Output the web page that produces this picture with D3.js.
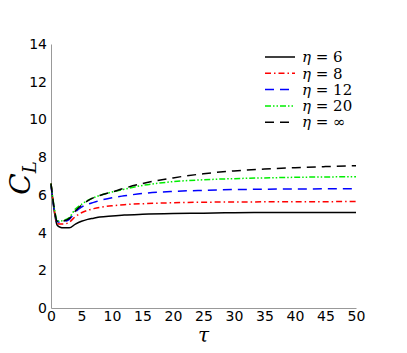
<!DOCTYPE html>
<html>
<head>
<meta charset="utf-8">
<script src="https://cdn.jsdelivr.net/npm/d3@7"></script>
<style>
  body { margin: 0; background: #fff; }
</style>
</head>
<body>
<div id="chart"></div>
<script>
// tau samples
const tau = [0, 0.5, 1, 1.5, 2, 3, 4, 5, 6, 7, 8, 10, 12, 15, 20, 25, 30, 35, 40, 45, 50];

const eta6   = [6.6, 5.2, 4.4, 4.28, 4.25, 4.25, 4.45, 4.6, 4.7, 4.76, 4.82, 4.88, 4.93, 4.97, 5.01, 5.03, 5.05, 5.06, 5.06, 5.07, 5.07];
const eta8   = [6.6, 5.3, 4.5, 4.45, 4.45, 4.55, 4.85, 5.05, 5.18, 5.27, 5.34, 5.42, 5.48, 5.53, 5.58, 5.61, 5.62, 5.63, 5.64, 5.64, 5.65];
const eta12  = [6.5, 5.3, 4.6, 4.55, 4.57, 4.7, 5.1, 5.35, 5.5, 5.6, 5.7, 5.85, 5.95, 6.07, 6.18, 6.24, 6.28, 6.3, 6.31, 6.32, 6.33];
const eta20  = [6.6, 5.4, 4.65, 4.6, 4.65, 4.8, 5.25, 5.5, 5.7, 5.85, 5.97, 6.15, 6.3, 6.5, 6.7, 6.8, 6.86, 6.9, 6.93, 6.95, 6.96];
const etaInf = [6.6, 5.35, 4.6, 4.55, 4.6, 4.75, 5.15, 5.45, 5.68, 5.85, 5.97, 6.15, 6.35, 6.6, 6.9, 7.12, 7.27, 7.37, 7.44, 7.5, 7.55];

const labels = ["6", "8", "12", "20", "\u221E"];
const xTicks = [0, 5, 10, 15, 20, 25, 30, 35, 40, 45, 50];
const yTicks = [0, 2, 4, 6, 8, 10, 12, 14];

const series = [
  { name: labels[0], values: eta6,   color: "#000000", dash: null },
  { name: labels[1], values: eta8,   color: "#ff0000", dash: "6,3,1.5,3" },
  { name: labels[2], values: eta12,  color: "#0000ff", dash: "9,6" },
  { name: labels[3], values: eta20,  color: "#00ee00", dash: "6,2,1.5,2,1.5,2" },
  { name: labels[4], values: etaInf, color: "#000000", dash: "9,6" }
];

const width = 407;
const height = 353;
const margin = { top: 44, right: 51, bottom: 45, left: 51 };

const x = d3.scaleLinear()
  .domain([0, 50])
  .range([margin.left, width - margin.right]);

const y = d3.scaleLinear()
  .domain([0, 14])
  .range([height - margin.bottom, margin.top]);

const svg = d3.select("#chart")
  .append("svg")
  .attr("width", width)
  .attr("height", height);

// axes (left + bottom only, no tick marks)
const xAxis = g => g
  .attr("transform", `translate(0, ${height - margin.bottom})`)
  .call(d3.axisBottom(x).tickValues(xTicks).tickSize(0).tickPadding(3).tickSizeOuter(0))
  .call(g => g.select(".domain").attr("stroke", "#999"))
  .call(g => g.selectAll("text").attr("font-family", "DejaVu Sans").attr("font-size", 14).attr("fill", "#000"));
svg.append("g").call(xAxis);

const yAxis = g => g
  .attr("transform", `translate(${margin.left}, 0)`)
  .call(d3.axisLeft(y).tickValues(yTicks).tickSize(0).tickPadding(4).tickSizeOuter(0))
  .call(g => g.select(".domain").attr("stroke", "#999"))
  .call(g => g.selectAll("text").attr("font-family", "DejaVu Sans").attr("font-size", 14).attr("fill", "#000"));
svg.append("g").call(yAxis);

// curves
const line = d3.line()
  .x((d, i) => x(tau[i]))
  .y(d => y(d))
  .curve(d3.curveMonotoneX);

svg.append("g")
  .selectAll("path")
  .data(series)
  .join("path")
    .attr("fill", "none")
    .attr("stroke", d => d.color)
    .attr("stroke-width", 1.5)
    .attr("stroke-dasharray", d => d.dash)
    .attr("d", d => line(d.values));

// legend
const legend = svg.append("g")
  .attr("transform", "translate(265, 57)");

const rows = legend.selectAll("g")
  .data(series)
  .join("g")
    .attr("transform", (d, i) => `translate(0, ${i * 16.3})`);

rows.append("line")
  .attr("x1", 0)
  .attr("x2", 30)
  .attr("stroke", d => d.color)
  .attr("stroke-width", 1.5)
  .attr("stroke-dasharray", d => d.dash);

const lt = rows.append("text")
  .attr("x", 37)
  .attr("dy", "0.35em")
  .attr("font-family", "DejaVu Serif")
  .attr("font-size", 15);
lt.append("tspan").attr("font-style", "italic").text("\u03B7");
lt.append("tspan").text(d => " = " + d.name);

// axis titles
const yTitle = svg.append("text")
  .attr("transform", `translate(30, 178) rotate(-90)`)
  .attr("text-anchor", "middle")
  .attr("font-family", "DejaVu Serif")
  .attr("font-size", 28)
  .attr("font-style", "italic");
yTitle.append("tspan").text("C");
yTitle.append("tspan").attr("font-size", 18).attr("dy", 6).text("L");

svg.append("text")
  .attr("x", x(25))
  .attr("y", 342)
  .attr("text-anchor", "middle")
  .attr("font-family", "DejaVu Serif")
  .attr("font-size", 20)
  .attr("font-style", "italic")
  .text("\u03C4");
</script>
</body>
</html>
